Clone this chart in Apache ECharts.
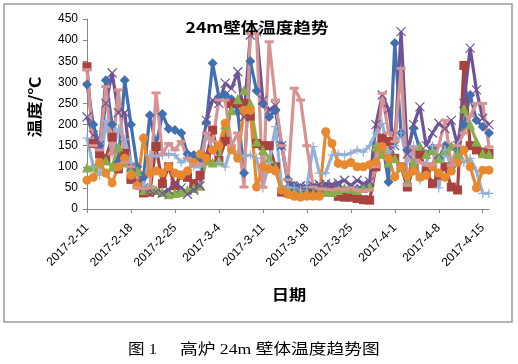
<!DOCTYPE html>
<html><head><meta charset="utf-8">
<script src="https://cdn.jsdelivr.net/npm/echarts@6/dist/echarts.min.js"></script>
<style>html,body{margin:0;padding:0;background:#fff}#c{width:518px;height:364px}</style>
</head><body><div id="c"></div>
<script>
const dates = ['2017-2-11','2017-2-12','2017-2-13','2017-2-14','2017-2-15','2017-2-16','2017-2-17','2017-2-18','2017-2-19','2017-2-20',
'2017-2-21','2017-2-22','2017-2-23','2017-2-24','2017-2-25','2017-2-26','2017-2-27','2017-2-28','2017-3-1','2017-3-2',
'2017-3-3','2017-3-4','2017-3-5','2017-3-6','2017-3-7','2017-3-8','2017-3-9','2017-3-10','2017-3-11','2017-3-12',
'2017-3-13','2017-3-14','2017-3-15','2017-3-16','2017-3-17','2017-3-18','2017-3-19','2017-3-20','2017-3-21','2017-3-22',
'2017-3-23','2017-3-24','2017-3-25','2017-3-26','2017-3-27','2017-3-28','2017-3-29','2017-3-30','2017-3-31','2017-4-1',
'2017-4-2','2017-4-3','2017-4-4','2017-4-5','2017-4-6','2017-4-7','2017-4-8','2017-4-9','2017-4-10','2017-4-11',
'2017-4-12','2017-4-13','2017-4-14','2017-4-15','2017-4-16'];
const yTicks = [0,50,100,150,200,250,300,350,400,450];
const blue = [295,200,150,305,200,110,305,200,100,75, 222,150,225,190,187,180,130,128,120,205, 345,265,270,260,230,85,350,280,250,218, 233,150,70,55,50,45,50,45,48,45, 50,45,50,48,50,55,100,160,64,393, 180,140,191,140,130,145,120,150,100,140, 200,270,210,195,180];
const red = [337,155,130,120,170,95,132,70,60,38, 40,148,60,100,55,80,75,60,80,123, 187,115,160,250,250,250,220,155,150,150, 100,40,38,35,40,38,35,42,40,45, 30,28,28,25,22,21,100,168,160,120, 100,52,100,130,90,60,80,100,52,45, 340,150,140,135,132];
const green = [98,100,110,115,100,148,110,98,90,45, 50,45,40,35,38,40,45,50,55,115, 110,115,200,234,260,282,250,160,140,120, 100,52,48,45,42,40,38,40,42,40, 45,50,48,45,50,55,148,130,110,120, 100,64,110,150,130,140,120,140,150,130, 238,200,160,132,130];
const purple = [218,175,150,250,322,228,228,100,60,50, 45,40,37,45,60,50,35,45,55,210, 258,250,298,285,325,218,412,420,258,234, 245,150,60,50,55,52,55,58,60,58, 62,68,55,68,60,65,200,270,236,150, 420,130,200,242,150,180,203,190,210,150, 250,381,282,215,200];
const lightblue = [168,100,80,210,130,190,165,110,60,55, 128,125,128,130,128,110,120,100,100,180, 140,110,100,150,125,125,128,120,50,110, 195,52,52,50,45,52,148,85,85,128, 130,128,132,140,135,150,180,203,132,150, 180,110,150,68,110,150,50,140,100,150, 110,120,90,37,37];
const orange = [68,75,110,85,62,100,120,80,55,168, 85,90,85,100,85,80,90,110,130,120, 140,150,203,140,120,234,234,52,100,95, 90,45,35,30,28,30,30,30,183,155, 108,105,110,100,100,105,110,148,120,76, 100,80,90,75,80,100,85,75,90,110, 140,100,50,92,92];
const pink = [330,150,140,290,130,282,110,100,50,48, 50,275,130,155,140,160,120,105,105,180, 160,258,258,150,180,52,415,417,52,396, 258,150,69,286,258,150,52,48,47,45, 48,45,50,45,42,45,100,274,180,160, 333,57,145,110,105,105,150,210,105,150, 180,220,250,250,147];

const chart = echarts.init(document.getElementById('c'), null, {renderer:'canvas'});
function mk(name, data, color, symbol, size, stroke) {
  return {
    name, type:'line', data, symbol, symbolSize:size, showSymbol:true, showAllSymbol:true,
    lineStyle:{color, width:3.2}, itemStyle:{color, borderColor:color, borderWidth: stroke||0},
    emphasis:{disabled:true}, animation:false
  };
}
const cjk = "'Noto Sans CJK SC', sans-serif";
chart.setOption({
  animation:false,
  grid:{left:87, right:29, top:19, bottom:155, containLabel:false},
  xAxis:{type:'category', data:dates, boundaryGap:false,
    axisLine:{lineStyle:{color:'#868686', width:1}},
    axisTick:{interval:6, length:4, lineStyle:{color:'#868686'}},
    axisLabel:{interval:6, rotate:45, margin:17, color:'#000', fontSize:12, fontFamily:'Liberation Sans, Arial, sans-serif'},
    splitLine:{show:false}},
  yAxis:{type:'value', min:0, max:450, interval:50,
    axisLine:{show:true, lineStyle:{color:'#868686', width:1}},
    axisTick:{show:true, length:4, lineStyle:{color:'#868686'}},
    axisLabel:{margin:9, color:'#000', fontSize:12, fontFamily:'Liberation Sans, Arial, sans-serif',
      formatter: v => yTicks.includes(v) ? String(v) : ''},
    splitLine:{show:false}},
  series:[
    mk('s1', blue, '#4170B0', 'diamond', 10),
    mk('s2', red, '#A9423F', 'rect', 9),
    mk('s3', green, '#88AE4C', 'triangle', 10),
    mk('s4', purple, '#6E5496', 'path://M0,0L10,10M10,0L0,10', 9, 1.2),
    mk('s5', lightblue, '#93B2DA', 'path://M5,0L5,10M0,5L10,5', 9, 1.2),
    mk('s6', orange, '#E8892F', 'circle', 9),
    mk('s7', pink, '#D69391', 'rect', [9,3])
  ],
  graphic:[
    {type:'rect', shape:{x:4, y:4, width:508, height:318}, style:{fill:'none', stroke:'#9a9a9a', lineWidth:1.5}, silent:true, z:-1},
    {type:'text', x:257, y:27, scaleX:1.17, style:{text:'24m壁体温度趋势', font:"bold 15px "+cjk, fill:'#000', textAlign:'center', textVerticalAlign:'middle'}, z:10},
    {type:'text', x:34, y:107, rotation:Math.PI/2, scaleX:1.2, style:{text:'温度/℃', font:"bold 15px "+cjk, fill:'#000', textAlign:'center', textVerticalAlign:'middle'}},
    {type:'text', x:289, y:294, scaleX:1.15, style:{text:'日期', font:"bold 15px "+cjk, fill:'#000', textAlign:'center', textVerticalAlign:'middle'}},
    {type:'text', x:128, y:350, scaleX:1.1, style:{text:'图 1', font:"15px 'Liberation Serif', "+cjk, fill:'#000', textAlign:'left', textVerticalAlign:'middle'}},
    {type:'text', x:180, y:350, scaleX:1.18, style:{text:'高炉 24m 壁体温度趋势图', font:"15px 'Liberation Serif', "+cjk, fill:'#000', textAlign:'left', textVerticalAlign:'middle'}}
  ]
});
</script></body></html>
